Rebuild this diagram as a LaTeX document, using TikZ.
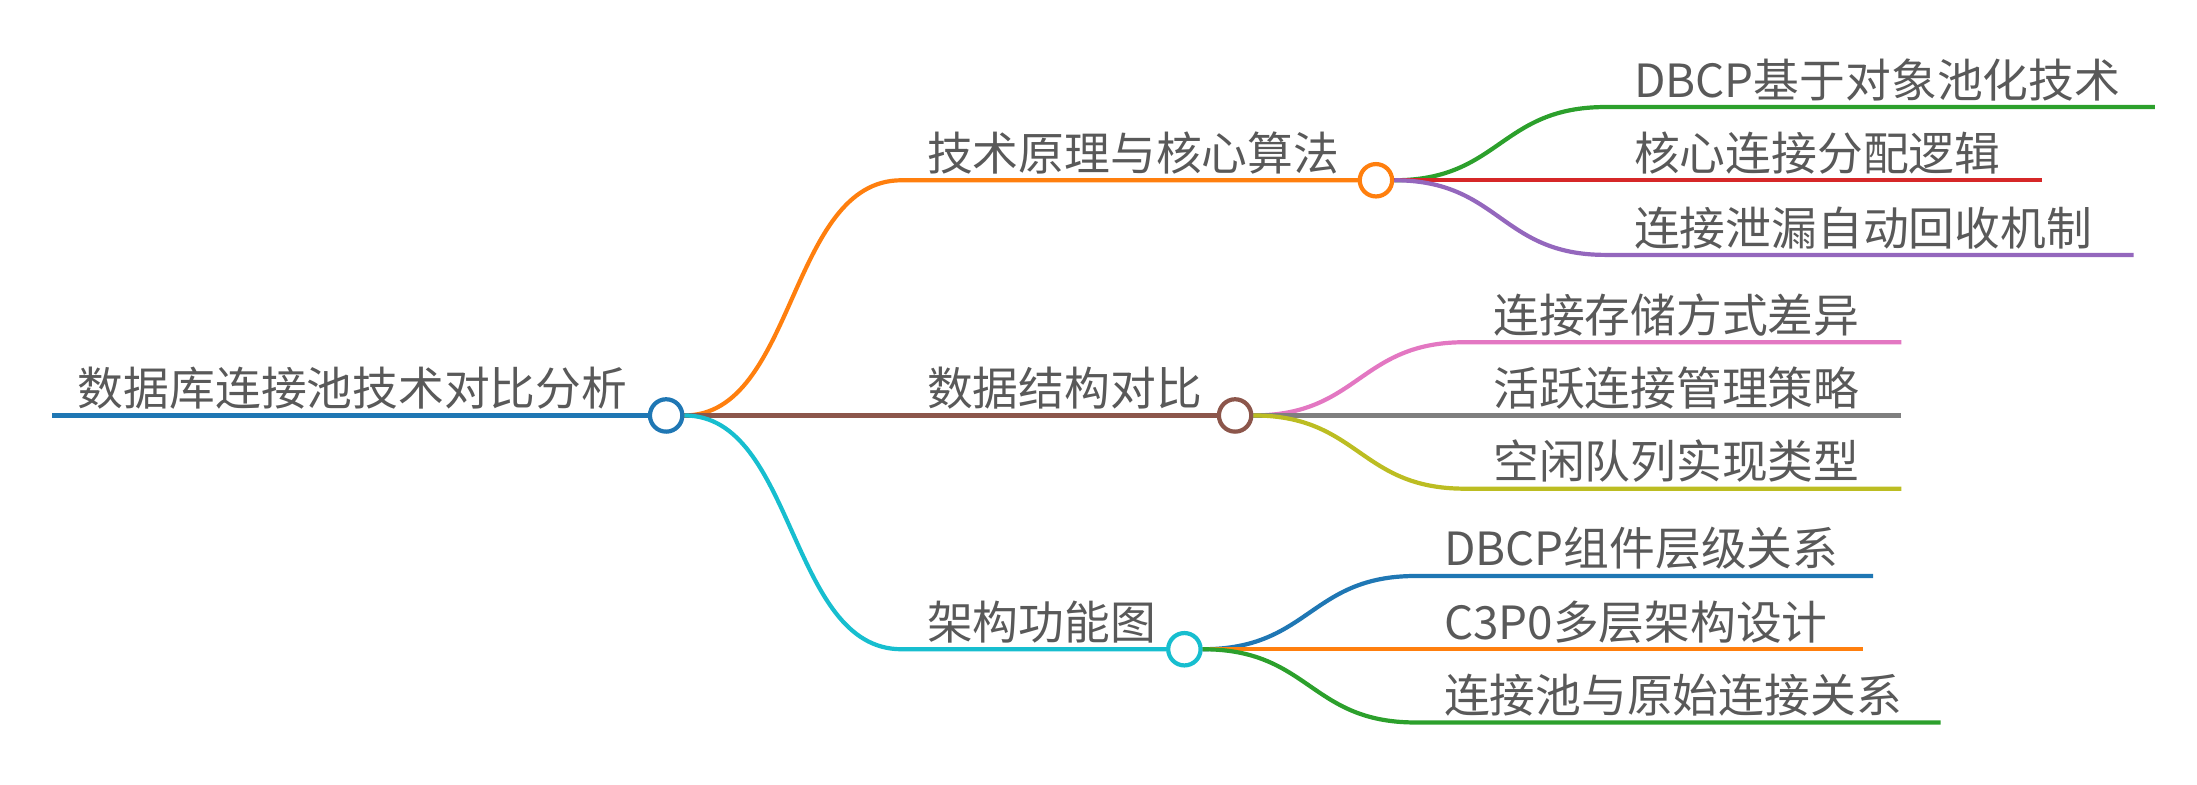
\documentclass[tikz,border=0pt]{standalone}
\usepackage{fontspec}
\setmainfont{Noto Sans CJK SC}
\begin{document}
\begin{tikzpicture}[x=0.02cm,y=-0.02cm,
  lbl/.style={anchor=south west,inner sep=0pt,text=black!65,font=\fontsize{18.5pt}{20pt}\selectfont},
  ln/.style={line width=1.7pt},
  dot/.style={circle,draw,line width=1.7pt,fill=white,minimum size=0.46cm,inner sep=0pt}]
\definecolor{cb}{HTML}{1F77B4}\definecolor{co}{HTML}{FF7F0E}\definecolor{cg}{HTML}{2CA02C}
\definecolor{cr}{HTML}{D62728}\definecolor{cp}{HTML}{9467BD}\definecolor{cbr}{HTML}{8C564B}
\definecolor{cpk}{HTML}{E377C2}\definecolor{cgr}{HTML}{7F7F7F}\definecolor{col}{HTML}{BCBD22}
\definecolor{cc}{HTML}{17BECF}
\useasboundingbox (0,0) rectangle (1560,557);
% coordinates
\coordinate (r0) at (37,295);
\coordinate (a1) at (640,128); \coordinate (a2) at (965,128);
\coordinate (b2) at (865,295);
\coordinate (c1) at (640,461); \coordinate (c2) at (830,461);
\node[dot,draw=cb] (R) at (473,295) {};
\node[dot,draw=co] (A) at (977,128) {};
\node[dot,draw=cbr] (B) at (877,295) {};
\node[dot,draw=cc] (C) at (841,461) {};
% children endpoints
\coordinate (a11) at (1140,76); \coordinate (a12) at (1530,76);
\coordinate (a22) at (1450,128);
\coordinate (a31) at (1140,181); \coordinate (a32) at (1515,181);
\coordinate (b11) at (1040,243); \coordinate (b12) at (1350,243);
\coordinate (b22) at (1350,295);
\coordinate (b31) at (1040,347); \coordinate (b32) at (1350,347);
\coordinate (c11) at (1005,409); \coordinate (c12) at (1330,409);
\coordinate (c22) at (1323,461);
\coordinate (c31) at (1005,513); \coordinate (c32) at (1378,513);
% lines
\draw[ln,cb] (r0) -- (R.west);
\draw[ln,co] (R.east) .. controls (565,295) and (560,128) .. (a1) -- (a2);
\draw[ln,cbr] (R.east) -- (B.west);
\draw[ln,cc] (R.east) .. controls (565,295) and (560,461) .. (c1) -- (c2);
\draw[ln,cg] (A.east) .. controls (1065,128) and (1065,76) .. (a11) -- (a12);
\draw[ln,cr] (A.east) -- (a22);
\draw[ln,cp] (A.east) .. controls (1065,128) and (1065,181) .. (a31) -- (a32);
\draw[ln,cpk] (B.east) .. controls (965,295) and (965,243) .. (b11) -- (b12);
\draw[ln,cgr] (B.east) -- (b22);
\draw[ln,col] (B.east) .. controls (965,295) and (965,347) .. (b31) -- (b32);
\draw[ln,cb] (C.east) .. controls (930,461) and (930,409) .. (c11) -- (c12);
\draw[ln,co] (C.east) -- (c22);
\draw[ln,cg] (C.east) .. controls (930,461) and (930,513) .. (c31) -- (c32);
% labels
\node[lbl] (tR) at (55,291) {数据库连接池技术对比分析};
\node[lbl] (tA) at (658,124) {技术原理与核心算法};
\node[lbl] (tB) at (658,291) {数据结构对比};
\node[lbl] (tC) at (658,457) {架构功能图};
\node[lbl] (t1) at (1160,72) {DBCP基于对象池化技术};
\node[lbl] (t2) at (1160,124) {核心连接分配逻辑};
\node[lbl] (t3) at (1160,177) {连接泄漏自动回收机制};
\node[lbl] (t4) at (1060,239) {连接存储方式差异};
\node[lbl] (t5) at (1060,291) {活跃连接管理策略};
\node[lbl] (t6) at (1060,343) {空闲队列实现类型};
\node[lbl] (t7) at (1025,405) {DBCP组件层级关系};
\node[lbl] (t8) at (1025,457) {C3P0多层架构设计};
\node[lbl] (t9) at (1025,509) {连接池与原始连接关系};
\end{tikzpicture}
\end{document}
